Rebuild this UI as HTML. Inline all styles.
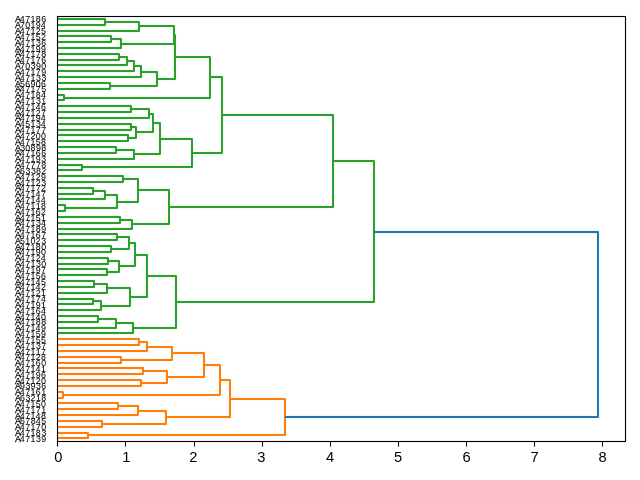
<!DOCTYPE html>
<html><head><meta charset="utf-8"><style>
html,body{margin:0;padding:0;background:#fff;}
body{width:640px;height:480px;position:relative;overflow:hidden;font-family:"Liberation Sans",sans-serif;}
svg{position:absolute;left:0;top:0;}
#txt{filter:grayscale(1);}
</style></head><body>
<svg width="640" height="480" viewBox="0 0 640 480">
<path fill="none" stroke="#2ca02c" stroke-opacity="0.05" stroke-width="4.08" d="M57 19H105M105 25H57M105 22H139M139 31H57M57 36H111M111 42H57M111 39H121M121 48H57M139 26H174M174 44H121M57 54H119M119 60H57M119 57H127M127 65H57M127 61H134M134 71H57M134 66H141M141 77H57M57 83H110M110 89H57M141 72H157M157 86H110M174 35H175M175 79H157M57 95H64M64 100H57M175 57H210M210 98H64M57 106H131M131 112H57M131 109H149M149 118H57M57 124H131M131 130H57M57 135H128M128 141H57M131 127H136M136 138H128M149 114H153M153 132H136M57 147H116M116 153H57M116 150H134M134 159H57M153 123H160M160 154H134M57 165H82M82 170H57M160 139H192M192 167H82M210 77H222M222 153H192M57 176H123M123 182H57M57 188H93M93 194H57M93 191H105M105 199H57M57 205H65M65 211H57M105 195H117M117 208H65M123 179H138M138 202H117M57 217H120M120 223H57M120 220H132M132 229H57M138 190H169M169 224H132M222 115H333M333 207H169M57 234H117M117 240H57M57 246H111M111 252H57M117 237H129M129 249H111M57 258H108M108 264H57M57 269H107M107 275H57M108 261H119M119 272H107M129 243H135M135 266H119M57 281H94M94 287H57M94 284H107M107 293H57M57 299H93M93 304H57M93 301H101M101 310H57M107 288H130M130 306H101M135 255H147M147 297H130M57 316H98M98 322H57M98 319H116M116 328H57M116 323H133M133 333H57M147 276H176M176 328H133M333 161H374M374 302H176"/>
<path fill="none" stroke="#ff7f0e" stroke-opacity="0.05" stroke-width="4.08" d="M57 339H139M139 345H57M139 342H147M147 351H57M57 357H121M121 363H57M147 347H172M172 360H121M57 368H143M143 374H57M57 380H141M141 386H57M143 371H167M167 383H141M172 353H204M204 377H167M57 392H63M63 398H57M204 365H220M220 395H63M57 403H118M118 409H57M118 406H138M138 415H57M57 421H102M102 427H57M138 411H166M166 424H102M220 380H230M230 417H166M57 433H88M88 438H57M230 399H285M285 435H88"/>
<path fill="none" stroke="#1f77b4" stroke-opacity="0.05" stroke-width="4.08" d="M374 232H598M598 417H285"/>
<path fill="none" stroke="#2ca02c" stroke-width="2.08" stroke-linejoin="round" d="M57 19H105V25H57M105 22H139V31H57M57 36H111V42H57M111 39H121V48H57M139 26H174V44H121M57 54H119V60H57M119 57H127V65H57M127 61H134V71H57M134 66H141V77H57M57 83H110V89H57M141 72H157V86H110M174 35H175V79H157M57 95H64V100H57M175 57H210V98H64M57 106H131V112H57M131 109H149V118H57M57 124H131V130H57M57 135H128V141H57M131 127H136V138H128M149 114H153V132H136M57 147H116V153H57M116 150H134V159H57M153 123H160V154H134M57 165H82V170H57M160 139H192V167H82M210 77H222V153H192M57 176H123V182H57M57 188H93V194H57M93 191H105V199H57M57 205H65V211H57M105 195H117V208H65M123 179H138V202H117M57 217H120V223H57M120 220H132V229H57M138 190H169V224H132M222 115H333V207H169M57 234H117V240H57M57 246H111V252H57M117 237H129V249H111M57 258H108V264H57M57 269H107V275H57M108 261H119V272H107M129 243H135V266H119M57 281H94V287H57M94 284H107V293H57M57 299H93V304H57M93 301H101V310H57M107 288H130V306H101M135 255H147V297H130M57 316H98V322H57M98 319H116V328H57M116 323H133V333H57M147 276H176V328H133M333 161H374V302H176"/>
<path fill="none" stroke="#ff7f0e" stroke-width="2.08" stroke-linejoin="round" d="M57 339H139V345H57M139 342H147V351H57M57 357H121V363H57M147 347H172V360H121M57 368H143V374H57M57 380H141V386H57M143 371H167V383H141M172 353H204V377H167M57 392H63V398H57M204 365H220V395H63M57 403H118V409H57M118 406H138V415H57M57 421H102V427H57M138 411H166V424H102M220 380H230V417H166M57 433H88V438H57M230 399H285V435H88"/>
<path fill="none" stroke="#1f77b4" stroke-width="2.08" stroke-linejoin="round" d="M374 232H598V417H285"/>
<path fill="none" stroke="#000" stroke-opacity="0.055" stroke-width="3.11" d="M57.5 16.5H625.5M57.5 441.5H625.5"/><path fill="none" stroke="#000" stroke-width="1.11" stroke-linejoin="miter" stroke-linecap="square" d="M57.5 16.5H625.5V441.5H57.5Z"/>
<path fill="none" stroke="#000" stroke-width="1.11" d="M57.5 441.5V446.5M125.5 441.5V446.5M194.5 441.5V446.5M262.5 441.5V446.5M330.5 441.5V446.5M398.5 441.5V446.5M466.5 441.5V446.5M534.5 441.5V446.5M602.5 441.5V446.5"/>
<g id="txt" font-family="Liberation Sans, sans-serif" fill="#000">
<g font-size="8.83" stroke="#000" stroke-width="0.05">
<text x="14.91 19.69 25.18 30.53 35.82 41.19" y="22.0"><tspan stroke-width="0.25">A</tspan>47186</text>
<text x="14.91 19.93 25.32 30.53 35.79 40.82" y="28.0"><tspan stroke-width="0.25">A</tspan>70194</text>
<text x="14.91 19.69 25.18 30.53 35.71 41.04" y="34.0"><tspan stroke-width="0.25">A</tspan>47125</text>
<text x="14.91 19.69 25.18 30.53 35.79 40.96" y="40.0"><tspan stroke-width="0.25">A</tspan>47152</text>
<text x="14.91 19.69 25.18 30.53 36.08 41.19" y="46.0"><tspan stroke-width="0.25">A</tspan>47136</text>
<text x="14.91 19.69 25.18 30.53 35.79 41.04" y="52.0"><tspan stroke-width="0.25">A</tspan>47199</text>
<text x="14.91 19.69 25.18 30.53 35.80 41.20" y="57.0"><tspan stroke-width="0.25">A</tspan>47178</text>
<text x="14.91 19.69 25.18 30.53 35.80 41.19" y="63.0"><tspan stroke-width="0.25">A</tspan>47176</text>
<text x="14.91 19.93 25.32 30.83 35.92 41.20" y="69.0"><tspan stroke-width="0.25">A</tspan>70390</text>
<text x="14.91 19.69 25.18 30.53 35.80 41.17" y="75.0"><tspan stroke-width="0.25">A</tspan>47179</text>
<text x="14.91 19.69 25.18 30.53 36.08 41.45" y="81.0"><tspan stroke-width="0.25">A</tspan>47133</text>
<text x="14.91 19.91 25.19 30.54 35.82 41.07" y="87.0"><tspan stroke-width="0.25">A</tspan>56906</text>
<text x="14.91 19.69 25.18 30.53 35.80 41.16" y="92.0"><tspan stroke-width="0.25">A</tspan>47175</text>
<text x="14.91 19.69 25.18 30.53 35.82 40.94" y="98.0"><tspan stroke-width="0.25">A</tspan>47184</text>
<text x="14.91 19.69 25.18 30.53 36.08 41.15" y="104.0"><tspan stroke-width="0.25">A</tspan>47131</text>
<text x="14.91 19.69 25.18 30.53 35.57 41.07" y="110.0"><tspan stroke-width="0.25">A</tspan>47146</text>
<text x="14.91 19.69 25.18 30.53 35.71 41.05" y="116.0"><tspan stroke-width="0.25">A</tspan>47127</text>
<text x="14.91 19.69 25.18 30.53 35.79 40.82" y="121.0"><tspan stroke-width="0.25">A</tspan>47194</text>
<text x="14.91 19.69 25.16 30.40 35.95 40.82" y="127.0"><tspan stroke-width="0.25">A</tspan>45134</text>
<text x="14.91 19.69 25.18 30.53 35.80 41.18" y="133.0"><tspan stroke-width="0.25">A</tspan>47177</text>
<text x="14.91 19.69 25.18 30.46 35.82 41.07" y="139.0"><tspan stroke-width="0.25">A</tspan>47200</text>
<text x="14.91 19.69 25.18 30.53 35.79 41.07" y="145.0"><tspan stroke-width="0.25">A</tspan>47158</text>
<text x="14.91 20.20 25.32 30.57 35.92 41.20" y="151.0"><tspan stroke-width="0.25">A</tspan>30898</text>
<text x="14.91 19.69 25.18 30.53 35.82 41.19" y="156.0"><tspan stroke-width="0.25">A</tspan>47166</text>
<text x="14.91 19.69 25.18 30.53 35.79 41.33" y="162.0"><tspan stroke-width="0.25">A</tspan>47193</text>
<text x="14.91 19.69 25.18 30.55 35.93 41.32" y="168.0"><tspan stroke-width="0.25">A</tspan>47778</text>
<text x="14.91 19.94 25.58 30.95 36.07 41.33" y="174.0"><tspan stroke-width="0.25">A</tspan>63382</text>
<text x="14.91 19.69 25.18 30.53 35.71 41.04" y="180.0"><tspan stroke-width="0.25">A</tspan>47129</text>
<text x="14.91 19.69 25.18 30.53 35.71 41.33" y="186.0"><tspan stroke-width="0.25">A</tspan>47123</text>
<text x="14.91 19.69 25.18 30.53 35.80 41.08" y="191.0"><tspan stroke-width="0.25">A</tspan>47172</text>
<text x="14.91 19.69 25.18 30.53 35.57 41.05" y="197.0"><tspan stroke-width="0.25">A</tspan>47147</text>
<text x="14.91 19.69 25.18 30.53 35.57 40.82" y="203.0"><tspan stroke-width="0.25">A</tspan>47144</text>
<text x="14.91 19.69 25.18 30.53 35.78 41.07" y="209.0"><tspan stroke-width="0.25">A</tspan>47118</text>
<text x="14.91 19.69 25.18 30.53 35.82 41.08" y="215.0"><tspan stroke-width="0.25">A</tspan>47162</text>
<text x="14.91 19.69 25.18 30.53 35.79 41.03" y="221.0"><tspan stroke-width="0.25">A</tspan>47151</text>
<text x="14.91 19.69 25.18 30.53 36.08 40.94" y="226.0"><tspan stroke-width="0.25">A</tspan>47134</text>
<text x="14.91 19.69 25.18 30.53 35.82 41.17" y="232.0"><tspan stroke-width="0.25">A</tspan>47189</text>
<text x="14.91 19.69 25.18 30.53 35.82 41.18" y="238.0"><tspan stroke-width="0.25">A</tspan>47167</text>
<text x="14.91 19.91 25.15 30.45 35.58 41.20" y="244.0"><tspan stroke-width="0.25">A</tspan>51023</text>
<text x="14.91 19.69 25.18 30.53 35.82 41.20" y="250.0"><tspan stroke-width="0.25">A</tspan>47180</text>
<text x="14.91 19.69 25.18 30.53 35.79 41.07" y="255.0"><tspan stroke-width="0.25">A</tspan>47190</text>
<text x="14.91 19.69 25.18 30.53 35.71 40.82" y="261.0"><tspan stroke-width="0.25">A</tspan>47124</text>
<text x="14.91 19.69 25.18 30.53 36.08 41.20" y="267.0"><tspan stroke-width="0.25">A</tspan>47130</text>
<text x="14.91 19.69 25.18 30.53 35.79 41.05" y="273.0"><tspan stroke-width="0.25">A</tspan>47197</text>
<text x="14.91 19.69 25.18 30.53 35.79 41.07" y="279.0"><tspan stroke-width="0.25">A</tspan>47156</text>
<text x="14.91 19.69 25.18 30.53 35.57 41.04" y="285.0"><tspan stroke-width="0.25">A</tspan>47145</text>
<text x="14.91 19.69 25.18 30.53 35.57 40.96" y="290.0"><tspan stroke-width="0.25">A</tspan>47142</text>
<text x="14.91 19.69 25.18 30.53 35.71 41.03" y="296.0"><tspan stroke-width="0.25">A</tspan>47121</text>
<text x="14.91 19.69 25.18 30.53 35.80 40.94" y="302.0"><tspan stroke-width="0.25">A</tspan>47174</text>
<text x="14.91 19.69 25.18 30.53 35.79 41.03" y="308.0"><tspan stroke-width="0.25">A</tspan>47191</text>
<text x="14.91 19.69 25.18 30.53 35.82 40.94" y="314.0"><tspan stroke-width="0.25">A</tspan>47164</text>
<text x="14.91 19.69 25.18 30.53 35.57 41.07" y="320.0"><tspan stroke-width="0.25">A</tspan>47140</text>
<text x="14.91 19.69 25.18 30.53 35.82 41.20" y="325.0"><tspan stroke-width="0.25">A</tspan>47188</text>
<text x="14.91 19.69 25.18 30.53 35.57 41.04" y="331.0"><tspan stroke-width="0.25">A</tspan>47149</text>
<text x="14.91 19.69 25.18 30.53 35.79 41.04" y="337.0"><tspan stroke-width="0.25">A</tspan>47159</text>
<text x="14.91 19.69 25.18 30.53 35.79 41.04" y="343.0"><tspan stroke-width="0.25">A</tspan>47155</text>
<text x="14.91 19.69 25.18 30.53 36.08 41.18" y="349.0"><tspan stroke-width="0.25">A</tspan>47137</text>
<text x="14.91 19.69 25.18 30.53 35.78 41.05" y="355.0"><tspan stroke-width="0.25">A</tspan>47117</text>
<text x="14.91 19.69 25.18 30.53 35.71 41.07" y="360.0"><tspan stroke-width="0.25">A</tspan>47128</text>
<text x="14.91 19.69 25.18 30.53 35.82 41.20" y="366.0"><tspan stroke-width="0.25">A</tspan>47160</text>
<text x="14.91 19.69 25.18 30.53 35.57 41.03" y="372.0"><tspan stroke-width="0.25">A</tspan>47141</text>
<text x="14.91 19.69 25.18 30.53 35.79 41.07" y="378.0"><tspan stroke-width="0.25">A</tspan>47196</text>
<text x="14.91 19.69 25.18 30.53 35.71 41.07" y="384.0"><tspan stroke-width="0.25">A</tspan>47120</text>
<text x="14.91 19.92 25.45 30.54 36.08 41.19" y="389.0"><tspan stroke-width="0.25">A</tspan>93936</text>
<text x="14.91 19.69 25.18 30.53 35.82 41.15" y="395.0"><tspan stroke-width="0.25">A</tspan>47161</text>
<text x="14.91 19.94 25.58 30.58 35.90 41.20" y="401.0"><tspan stroke-width="0.25">A</tspan>63218</text>
<text x="14.91 19.69 25.18 30.53 35.79 41.07" y="407.0"><tspan stroke-width="0.25">A</tspan>47150</text>
<text x="14.91 19.69 25.18 30.53 35.80 41.15" y="413.0"><tspan stroke-width="0.25">A</tspan>47171</text>
<text x="14.91 19.69 25.18 30.53 35.57 41.07" y="419.0"><tspan stroke-width="0.25">A</tspan>47148</text>
<text x="14.91 19.94 25.30 30.70 35.82 41.29" y="424.0"><tspan stroke-width="0.25">A</tspan>67845</text>
<text x="14.91 19.69 25.18 30.53 35.80 41.20" y="430.0"><tspan stroke-width="0.25">A</tspan>47170</text>
<text x="14.91 19.69 25.18 30.53 35.82 41.45" y="436.0"><tspan stroke-width="0.25">A</tspan>47183</text>
<text x="14.91 19.69 25.18 30.53 36.08 41.17" y="442.0"><tspan stroke-width="0.25">A</tspan>47139</text>
</g>
<g font-size="14.7" stroke="#000" stroke-width="0.0">
<text x="54.21" y="462.0">0</text>
<text x="122.19" y="462.0">1</text>
<text x="189.14" y="462.0">2</text>
<text x="257.28" y="462.0">3</text>
<text x="325.89" y="462.0">4</text>
<text x="393.96" y="462.0">5</text>
<text x="462.58" y="462.0">6</text>
<text x="530.43" y="462.0">7</text>
<text x="598.58" y="462.0">8</text>
</g>
</g>
</svg>
</body></html>
